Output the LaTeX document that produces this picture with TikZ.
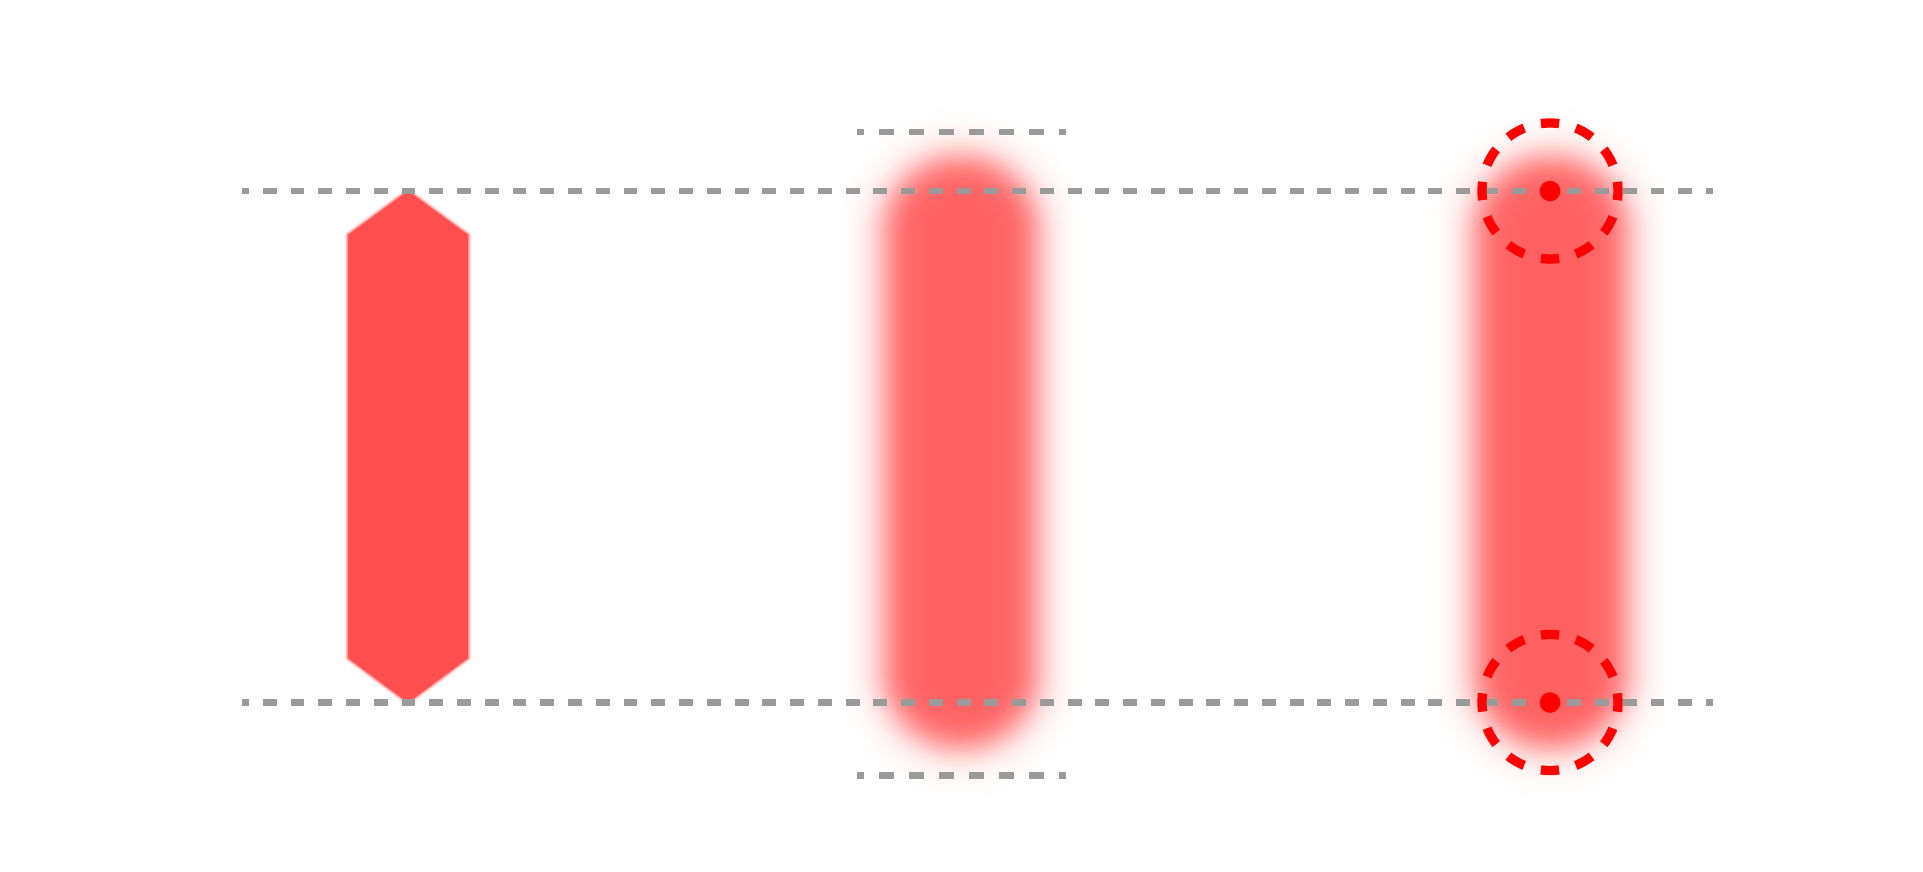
\documentclass[tikz,border=0pt]{standalone}
\definecolor{capcol}{RGB}{255,96,96}
\definecolor{hexcol}{RGB}{255,79,79}
\definecolor{guide}{RGB}{154,154,154}
\definecolor{markred}{RGB}{255,0,0}
\begin{document}
\begin{tikzpicture}[x=1pt,y=-1pt,
  guideline/.style={draw=guide, line width=6.7pt, line cap=butt},
  longdash/.style={dash pattern=on 13.877pt off 13.877pt, dash phase=6.94pt},
  shortdash/.style={dash pattern=on 14.93pt off 14.93pt, dash phase=7.46pt},
  markcircle/.style={draw=markred, line width=9.3pt, dash pattern=on 18.3pt off 17.3pt, dash phase=9.15pt},
  markdot/.style={fill=markred}]
\fill[white] (0,0) rectangle (1923,872);
\useasboundingbox (0,0) rectangle (1923,872);

% coordinates
\coordinate (h1) at (408,191);
\coordinate (h2) at (468,235);
\coordinate (h3) at (468,658);
\coordinate (h4) at (408,702.5);
\coordinate (h5) at (348,658);
\coordinate (h6) at (348,235);

\coordinate (gTL) at (242,191);
\coordinate (gTR) at (1713,191);
\coordinate (gBL) at (242,702.5);
\coordinate (gBR) at (1713,702.5);
\coordinate (sTL) at (857,132);
\coordinate (sTR) at (1066,132);
\coordinate (sBL) at (857,775.7);
\coordinate (sBR) at (1066,775.7);

\coordinate (cT) at (1550,191);
\coordinate (cB) at (1550,702.5);

% blurred capsules
\foreach \cx in {961,1551}{
  \foreach \i in {0,...,51}{
    \pgfmathsetmacro\d{51-2*\i}
    \pgfmathsetmacro\w{156+2*\d}
    \pgfmathsetmacro\p{100/(1+exp(1.702*\d/17))}
    \draw[line cap=round, line width=\w pt, color=capcol!\p!white] (\cx,234) -- (\cx,671);
  }
}

% slightly blurred hexagon
\foreach \d/\p in {3.5/8,2.5/22,1.5/45,0.7/70}{
  \draw[line width=2*\d pt, line join=round, color=hexcol!\p!white]
    (h1) -- (h2) -- (h3) -- (h4) -- (h5) -- (h6) -- cycle;
}
\fill[hexcol] (h1) -- (h2) -- (h3) -- (h4) -- (h5) -- (h6) -- cycle;

% guide lines
\draw[guideline, longdash] (gTL) -- (gTR);
\draw[guideline, longdash] (gBL) -- (gBR);
\draw[guideline, shortdash] (sTL) -- (sTR);
\draw[guideline, shortdash] (sBL) -- (sBR);

% end markers
\draw[markcircle] (cT) circle[radius=68pt];
\draw[markcircle] (cB) circle[radius=68pt];
\fill[markdot] (cT) circle[radius=10.3pt];
\fill[markdot] (cB) circle[radius=10.3pt];
\end{tikzpicture}
\end{document}
